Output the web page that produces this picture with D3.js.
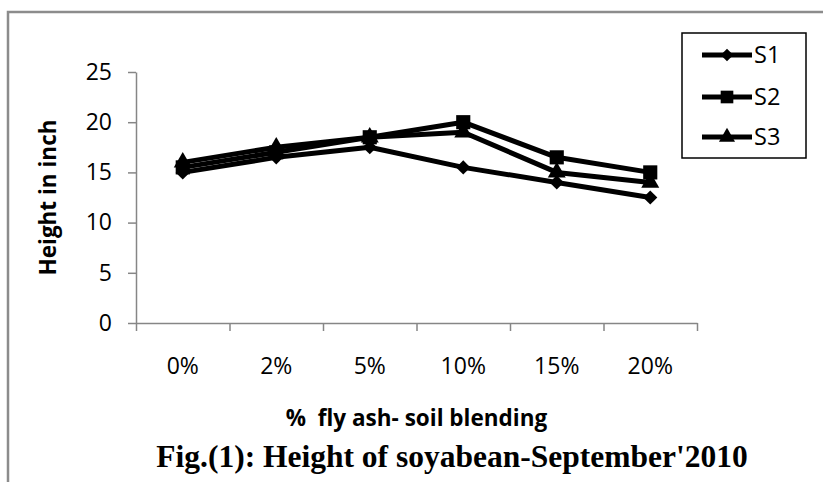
<!DOCTYPE html>
<html>
<head>
<meta charset="utf-8">
<script src="https://cdn.jsdelivr.net/npm/d3@7"></script>
<style>
  body { margin: 0; background: #fff; }
  svg { display: block; }
  .tick text { font-family: "Open Sans", sans-serif; font-size: 23px; fill: #000; }
</style>
</head>
<body>
<svg id="canvas" width="823" height="482"></svg>
<script>
// data
const categories = ["0%", "2%", "5%", "10%", "15%", "20%"];
const seriesNames = ["S1", "S2", "S3"];
const s1 = [15, 16.5, 17.5, 15.5, 14, 12.5];
const s2 = [15.5, 17, 18.5, 20, 16.5, 15];
const s3 = [16, 17.5, 18.5, 19, 15, 14];
const yTicks = [0, 5, 10, 15, 20, 25];

const svg = d3.select("#canvas");

const plotLeft = 136, plotRight = 697, plotTop = 72, plotBottom = 323;

const x = d3.scaleBand().domain(categories).range([plotLeft, plotRight]);
const xEdge = d3.scaleLinear().domain([0, categories.length]).range([plotLeft, plotRight]);
const y = d3.scaleLinear().domain([0, 25]).range([plotBottom, plotTop]);

// outer frame (only left and top edges show in the crop)
svg.append("path")
    .attr("d", "M8,482 L8,12 L823,12")
    .attr("fill", "none")
    .attr("stroke", "#8c8c8c")
    .attr("stroke-width", 2.5);

// y axis
const yAxis = svg.append("g")
    .attr("transform", "translate(" + plotLeft + ",0)")
    .call(d3.axisLeft(y).tickValues(yTicks).tickSize(8).tickSizeOuter(0).tickPadding(16));
yAxis.selectAll("path, line").attr("stroke", "#868686").attr("stroke-width", 1.5);

// x axis: ticks between categories, labels at category centres
const xTicks = svg.append("g")
    .attr("transform", "translate(0," + plotBottom + ")")
    .call(d3.axisBottom(xEdge).tickValues(d3.range(categories.length + 1)).tickSize(8).tickSizeOuter(0).tickFormat(""));
xTicks.selectAll("path, line").attr("stroke", "#868686").attr("stroke-width", 1.5);

const xLabels = svg.append("g")
    .attr("transform", "translate(0," + plotBottom + ")")
    .call(d3.axisBottom(x).tickSize(0).tickPadding(35));
xLabels.select(".domain").remove();

// axis titles
svg.append("text")
    .attr("transform", "translate(56," + ((plotTop + plotBottom) / 2) + ") rotate(-90)")
    .attr("text-anchor", "middle")
    .attr("font-family", "Open Sans, sans-serif")
    .attr("font-weight", "bold")
    .attr("font-size", 22.5)
    .text("Height in inch");

svg.append("text")
    .attr("x", (plotLeft + plotRight) / 2)
    .attr("y", 426)
    .attr("text-anchor", "middle")
    .attr("font-family", "Open Sans, sans-serif")
    .attr("font-weight", "bold")
    .attr("font-size", 22.5)
    .attr("xml:space", "preserve")
    .style("white-space", "pre")
    .text("%  fly ash- soil blending");

svg.append("text")
    .attr("x", 452)
    .attr("y", 467)
    .attr("text-anchor", "middle")
    .attr("font-family", "Liberation Serif, Times New Roman, serif")
    .attr("font-weight", "bold")
    .attr("font-size", 31.5)
    .text("Fig.(1): Height of soyabean-September'2010");

// series
const series = [
    { name: seriesNames[0], values: s1, symbol: d3.symbolSquare, size: 100, rotate: 45 },
    { name: seriesNames[1], values: s2, symbol: d3.symbolSquare, size: 200, rotate: 0 },
    { name: seriesNames[2], values: s3, symbol: d3.symbolTriangle, size: 140, rotate: 0 }
];

const line = d3.line()
    .x((d, i) => x(categories[i]) + x.bandwidth() / 2)
    .y((d) => y(d));

series.forEach((s) => {
    svg.append("path")
        .attr("d", line(s.values))
        .attr("fill", "none")
        .attr("stroke", "#000")
        .attr("stroke-width", 5)
        .attr("stroke-linejoin", "round");

    svg.selectAll(null)
        .data(s.values)
        .enter()
        .append("path")
        .attr("d", d3.symbol().type(s.symbol).size(s.size))
        .attr("transform", (d, i) => "translate(" + (x(categories[i]) + x.bandwidth() / 2) + "," + y(d) + ") rotate(" + s.rotate + ")")
        .attr("fill", "#000");
});

// legend
const legend = svg.append("g");
legend.append("rect")
    .attr("x", 682).attr("y", 33)
    .attr("width", 124).attr("height", 125)
    .attr("fill", "#fff")
    .attr("stroke", "#000")
    .attr("stroke-width", 1.5);

const legendY = [55, 97, 137];
series.forEach((s, i) => {
    const g = legend.append("g").attr("transform", "translate(0," + legendY[i] + ")");
    g.append("line")
        .attr("x1", 702).attr("x2", 752)
        .attr("stroke", "#000")
        .attr("stroke-width", 5);
    g.append("path")
        .attr("d", d3.symbol().type(s.symbol).size(s.size * 0.8))
        .attr("transform", "translate(727,0) rotate(" + s.rotate + ")")
        .attr("fill", "#000");
    g.append("text")
        .attr("x", 754)
        .attr("dy", "0.35em")
        .attr("font-family", "Open Sans, sans-serif")
        .attr("font-size", 23.5)
        .text(s.name);
});
</script>
</body>
</html>
